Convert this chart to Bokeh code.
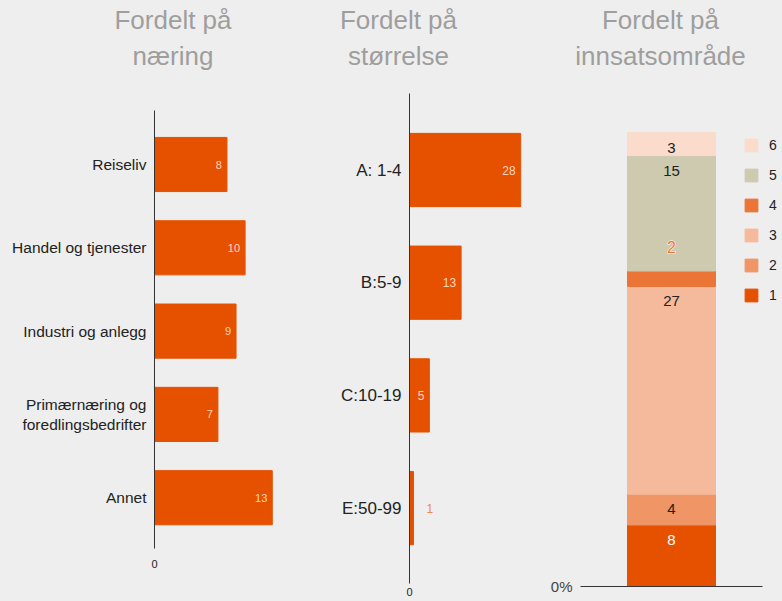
from bokeh.plotting import figure
from bokeh.models import (ColumnDataSource, Range1d, FixedTicker, Label,
                          Legend, LegendItem, NumeralTickFormatter)
from bokeh.layouts import row
from bokeh.core.properties import value
from bokeh.embed import file_html
from bokeh.resources import INLINE

# ---------------- data ----------------
titles = ["Fordelt på\nnæring", "Fordelt på\nstørrelse", "Fordelt på\ninnsatsområde"]

naering_labels = ["Reiseliv", "Handel og tjenester", "Industri og anlegg",
                  "Primærnæring og\nforedlingsbedrifter", "Annet"]
naering_counts = [8, 10, 9, 7, 13]

storrelse_labels = ["A: 1-4", "B:5-9", "C:10-19", "E:50-99"]
storrelse_counts = [28, 13, 5, 1]

omrade_labels = ["1", "2", "3", "4", "5", "6"]
omrade_counts = [8, 4, 27, 2, 15, 3]

# ---------------- style ----------------
H = 600
BG = "#eeeeee"
ORANGE = "#e65100"
IN_LABEL = "#fcd6c1"
OUT_LABEL = "#f0884a"
TITLE_COLOR = "#9e9e9e"
FONT = "Liberation Sans"
SEG_COLORS = ["#e65100", "#ef9566", "#f5b99b", "#ea7536", "#cdcab0", "#fadbcc"]
SEG_TEXT = ["#ffffff", "#222222", "#222222", "#222222", "#222222", "#222222"]


def base_fig(width, x_range, y_range):
    p = figure(width=width, height=H, x_range=x_range, y_range=y_range,
               output_backend="svg", toolbar_location=None,
               min_border=0, min_border_left=0, min_border_right=0,
               min_border_top=0, min_border_bottom=0,
               background_fill_color=BG, border_fill_color=BG,
               outline_line_color=None)
    p.xgrid.visible = False
    p.ygrid.visible = False
    return p


def no_ticks(ax):
    ax.major_tick_line_color = None
    ax.minor_tick_line_color = None
    ax.major_tick_out = 0
    ax.major_tick_in = 0
    ax.minor_tick_out = 0
    ax.minor_tick_in = 0


def add_title(p, text, cx):
    p.add_layout(Label(x=cx, y=H - 4, x_units="screen", y_units="screen", text=text,
                       text_align="center", text_baseline="top",
                       text_font=FONT, text_font_size="26px",
                       text_color=TITLE_COLOR, text_line_height=1.2))


def bar_panel(width, axis_x, xppu, yppu, first_px, line_px, zero_px, zero_standoff,
              cats, vals, label_size, value_size, title, title_cx):
    n = len(cats)
    pos = [n - i for i in range(n)]
    y_end = pos[0] + first_px / yppu

    def y_at(px):
        return y_end - px / yppu

    p = base_fig(width, Range1d(-axis_x / xppu, (width - axis_x) / xppu),
                 Range1d(y_at(H), y_end))
    src = ColumnDataSource(dict(pos=pos, val=vals))
    p.hbar(y="pos", left=0, right="val", height=0.65, color=ORANGE, source=src)
    vmax = max(vals)
    inside = [i for i, v in enumerate(vals) if v / vmax > 0.1]
    outside = [i for i, v in enumerate(vals) if v / vmax <= 0.1]
    for idx, align, off, col in ((inside, "right", -5, IN_LABEL), (outside, "left", 13, OUT_LABEL)):
        if not idx:
            continue
        s = ColumnDataSource(dict(pos=[pos[i] for i in idx], val=[vals[i] for i in idx],
                                  lbl=[str(vals[i]) for i in idx]))
        p.text(x="val", y="pos", text="lbl", source=s, x_offset=off,
               text_align=align, text_baseline="middle", text_font=value(FONT),
               text_font_size=value_size, text_color=col)
    ya = p.yaxis[0]
    ya.fixed_location = 0
    ya.bounds = (y_at(line_px[1]), y_at(line_px[0]))
    ya.ticker = FixedTicker(ticks=pos)
    ya.major_label_overrides = {pv: c for pv, c in zip(pos, cats)}
    ya.axis_line_color = "#333333"
    no_ticks(ya)
    ya.major_label_standoff = 8
    ya.major_label_text_font = FONT
    ya.major_label_text_font_size = label_size
    ya.major_label_text_color = "#222222"

    xa = p.xaxis[0]
    xa.fixed_location = y_at(zero_px)
    xa.ticker = FixedTicker(ticks=[0])
    xa.axis_line_color = None
    no_ticks(xa)
    xa.major_label_standoff = zero_standoff
    xa.major_label_text_font = FONT
    xa.major_label_text_font_size = "11px"
    xa.major_label_text_color = "#222222"
    add_title(p, title, title_cx)
    return p


# ---------------- panel 1 (page x 0..308) ----------------
p1 = bar_panel(308, 154, 9.06, 83.3, 164, (110, 548), 555, 4,
               naering_labels, naering_counts, "15.5px", "11px", titles[0], 172.5)

# ---------------- panel 2 (page x 308..548) ----------------
p2 = bar_panel(240, 101, 3.97, 112.7, 169.5, (93, 583), 583, 4,
               storrelse_labels, storrelse_counts, "17px", "12px", titles[1], 90)

# ---------------- panel 3 (page x 548..782) ----------------
W3 = 234
BAR_CX = 123          # bar centre, px from the panel's left edge
BASE_PX = 586         # baseline (0 %) px from the top
YPPU = 454            # px for 100 %
total = sum(omrade_counts)
shares = [c / total for c in omrade_counts]
p3 = base_fig(W3, Range1d(-BAR_CX, W3 - BAR_CX),
              Range1d(-(H - BASE_PX) / YPPU, BASE_PX / YPPU))
bar_x = [0]
src3 = ColumnDataSource(dict(x=bar_x, **{lab: [s] for lab, s in zip(omrade_labels, shares)}))
rends = p3.vbar_stack(omrade_labels, x="x", width=88, color=SEG_COLORS, source=src3)

tops = []
acc = 0.0
for s in shares:
    acc += s
    tops.append(acc)
ins = [i for i, s in enumerate(shares) if s >= 0.04]
outs = [i for i, s in enumerate(shares) if s < 0.04]
p3.text(x="x", y="y", text="t", color="c", source=ColumnDataSource(dict(
    x=bar_x * len(ins), y=[tops[i] for i in ins], t=[str(omrade_counts[i]) for i in ins],
    c=[SEG_TEXT[i] for i in ins])), y_offset=15, text_align="center", text_baseline="middle",
    text_font=value(FONT), text_font_size="15px")
out_src = ColumnDataSource(dict(
    x=bar_x * len(outs), y=[tops[i] for i in outs], t=[str(omrade_counts[i]) for i in outs],
    c=[SEG_COLORS[i] for i in outs]))
p3.text(x="x", y="y", text="t", source=out_src, y_offset=-24, text_align="center",
        text_baseline="middle", text_color="white", text_outline_color="white",
        text_font=value(FONT), text_font_size="16px")
p3.text(x="x", y="y", text="t", color="c", source=out_src, y_offset=-24, text_align="center",
        text_baseline="middle", text_font=value(FONT), text_font_size="16px")

ya = p3.yaxis[0]
ya.fixed_location = -91
ya.ticker = FixedTicker(ticks=[0])
ya.formatter = NumeralTickFormatter(format="0%")
ya.axis_line_color = None
no_ticks(ya)
ya.major_label_standoff = 8
ya.major_label_text_font = FONT
ya.major_label_text_font_size = "15px"
ya.major_label_text_color = "#444444"

xa = p3.xaxis[0]
xa.fixed_location = 0
xa.bounds = (-91, 91)
xa.ticker = FixedTicker(ticks=[])
xa.axis_line_color = "#333333"
no_ticks(xa)

legend = Legend(items=[LegendItem(label=lab, renderers=[r])
                       for lab, r in reversed(list(zip(omrade_labels, rends)))],
                location=(195, H - 303), orientation="vertical",
                glyph_width=16, glyph_height=16, spacing=14, label_height=16,
                label_standoff=10, padding=0, margin=0, border_line_color=None,
                background_fill_alpha=0, label_text_font=FONT,
                label_text_font_size="14px", label_text_color="#222222")
p3.add_layout(legend)
add_title(p3, titles[2], 112)

layout = row(p1, p2, p3)
open("out.html", "w").write(file_html(layout, INLINE).replace(
    "<head>", "<head><style>html,body{background:#eeeeee;}</style>", 1))
